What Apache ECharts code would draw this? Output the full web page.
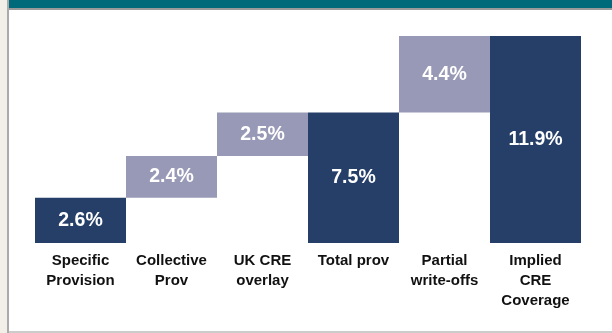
<!DOCTYPE html>
<html>
<head>
<meta charset="utf-8">
<script src="https://cdn.jsdelivr.net/npm/echarts@6/dist/echarts.min.js"></script>
<style>
html,body{margin:0;padding:0;background:#fff;}
#c{width:612px;height:333px;}
</style>
</head>
<body>
<div id="c"></div>
<script>
const categories = ['Specific\nProvision', 'Collective\nProv', 'UK CRE\noverlay', 'Total prov', 'Partial\nwrite-offs', 'Implied\nCRE\nCoverage'];
const values = [2.6, 2.4, 2.5, 7.5, 4.4, 11.9];
const isTotal = [false, false, false, true, false, true];

const NAVY = '#253f69';
const LIGHT = '#9899b6';

// compute waterfall bases
const bases = [];
let running = 0;
values.forEach((v, i) => {
  if (isTotal[i]) { bases.push(0); running = v; }
  else if (i === 0) { bases.push(0); running = v; }
  else { bases.push(running); running += v; }
});
const colors = values.map((v, i) => (isTotal[i] || i === 0) ? NAVY : LIGHT);

const chart = echarts.init(document.getElementById('c'), null, {renderer: 'canvas'});
chart.setOption({
  animation: false,
  backgroundColor: '#ffffff',
  grid: {left: 35, right: 31, top: 36, bottom: 90},
  xAxis: {
    type: 'category',
    data: categories,
    axisLine: {show: false},
    axisTick: {show: false},
    axisLabel: {
      interval: 0,
      margin: 8,
      color: '#111111',
      fontFamily: 'Liberation Sans, Arial, sans-serif',
      fontWeight: 'bold',
      fontSize: 15,
      lineHeight: 20
    }
  },
  yAxis: {
    type: 'value', min: 0, max: 11.9, show: false,
    splitLine: {show: false}
  },
  series: [
    {
      type: 'bar', stack: 'w', barCategoryGap: 0,
      itemStyle: {color: 'rgba(0,0,0,0)'},
      data: bases, silent: true
    },
    {
      type: 'bar', stack: 'w', barCategoryGap: 0,
      data: values.map((v, i) => ({value: v, itemStyle: {color: colors[i]}})),
      label: {
        show: true, position: 'inside',
        formatter: p => p.value.toFixed(1) + '%',
        color: '#ffffff',
        fontFamily: 'Liberation Sans, Arial, sans-serif',
        fontWeight: 'bold',
        fontSize: 19.5
      }
    }
  ],
  graphic: [
    {type: 'rect', shape: {x: 0, y: 0, width: 7, height: 333}, style: {fill: '#f1efe8'}, silent: true},
    {type: 'rect', shape: {x: 7, y: 0, width: 2, height: 333}, style: {fill: '#aaaaaa'}, silent: true},
    {type: 'rect', shape: {x: 9, y: 0, width: 603, height: 8}, style: {fill: '#006a7a'}, silent: true},
    {type: 'rect', shape: {x: 9, y: 8, width: 603, height: 2}, style: {fill: '#9a9a9a'}, silent: true},
    {type: 'rect', shape: {x: 9, y: 331, width: 603, height: 2}, style: {fill: '#cccccc'}, silent: true}
  ]
});
</script>
</body>
</html>
